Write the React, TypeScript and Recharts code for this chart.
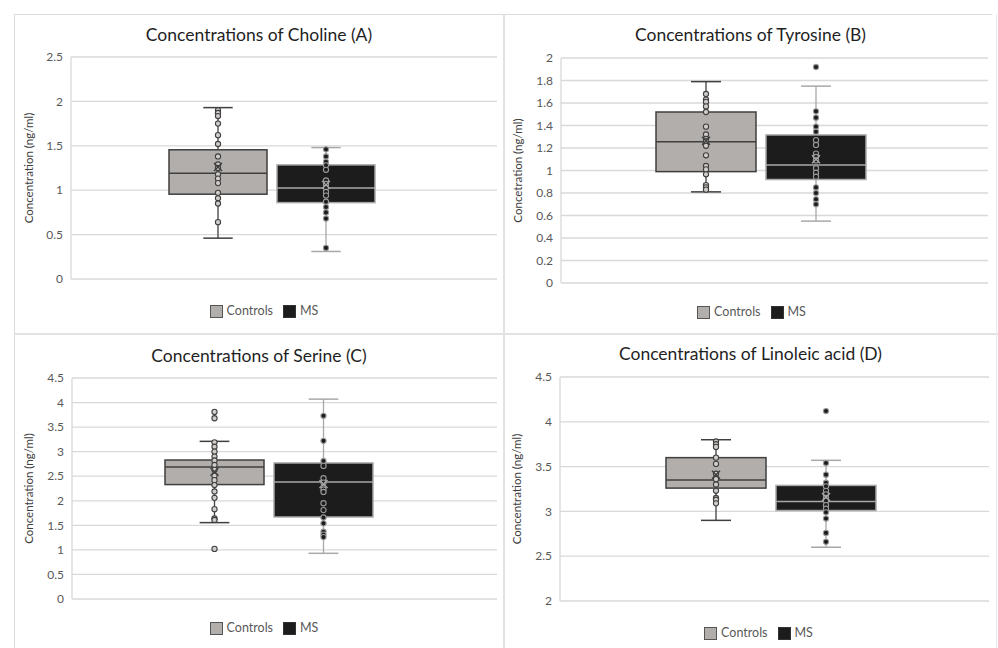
import React from 'react';
import { ComposedChart, Bar, XAxis, YAxis, CartesianGrid, Label } from 'recharts';

const groups = ['Controls', 'MS'];

// Panel A — Choline
const cholineMin = [0.46, 0.31];
const cholineQ1 = [0.955, 0.86];
const cholineMedian = [1.19, 1.025];
const cholineQ3 = [1.455, 1.285];
const cholineMax = [1.93, 1.48];
const cholineMean = [1.26, 1.06];
const cholineControlsPoints = [1.9, 1.87, 1.835, 1.75, 1.62, 1.52, 1.38, 1.29, 1.25, 1.18, 1.13, 1.08, 0.97, 0.91, 0.85, 0.64];
const cholineMsPoints = [1.46, 1.38, 1.32, 1.28, 1.23, 1.11, 1.07, 1.03, 0.98, 0.94, 0.87, 0.81, 0.75, 0.68, 0.35];
const cholineTicks = [0, 0.5, 1, 1.5, 2, 2.5];
const cholineTickLabels = ['0', '0.5', '1', '1.5', '2', '2.5'];

// Panel B — Tyrosine
const tyrosineMin = [0.81, 0.55];
const tyrosineQ1 = [0.99, 0.92];
const tyrosineMedian = [1.256, 1.05];
const tyrosineQ3 = [1.52, 1.316];
const tyrosineMax = [1.79, 1.75];
const tyrosineMean = [1.265, 1.1];
const tyrosineControlsPoints = [1.68, 1.63, 1.61, 1.57, 1.52, 1.39, 1.32, 1.28, 1.26, 1.22, 1.135, 1.04, 1.01, 0.966, 0.87, 0.85, 0.83];
const tyrosineMsPoints = [1.92, 1.526, 1.47, 1.39, 1.345, 1.27, 1.227, 1.15, 1.12, 1.09, 1.02, 0.98, 0.945, 0.85, 0.8, 0.744, 0.7];
const tyrosineTicks = [0, 0.2, 0.4, 0.6, 0.8, 1, 1.2, 1.4, 1.6, 1.8, 2];
const tyrosineTickLabels = ['0', '0.2', '0.4', '0.6', '0.8', '1', '1.2', '1.4', '1.6', '1.8', '2'];

// Panel C — Serine
const serineMin = [1.555, 0.93];
const serineQ1 = [2.33, 1.67];
const serineMedian = [2.69, 2.38];
const serineQ3 = [2.83, 2.77];
const serineMax = [3.21, 4.07];
const serineMean = [2.59, 2.34];
const serineControlsPoints = [3.81, 3.68, 3.19, 3.1, 3.0, 2.9, 2.82, 2.73, 2.63, 2.51, 2.42, 2.32, 2.19, 2.06, 1.83, 1.64, 1.61, 1.02];
const serineMsPoints = [3.73, 3.22, 2.81, 2.71, 2.46, 2.37, 2.23, 2.18, 1.95, 1.81, 1.66, 1.54, 1.37, 1.31, 1.26];
const serineTicks = [0, 0.5, 1, 1.5, 2, 2.5, 3, 3.5, 4, 4.5];
const serineTickLabels = ['0', '0.5', '1', '1.5', '2', '2.5', '3', '3.5', '4', '4.5'];

// Panel D — Linoleic acid
const linoleicMin = [2.9, 2.6];
const linoleicQ1 = [3.26, 3.01];
const linoleicMedian = [3.35, 3.11];
const linoleicQ3 = [3.6, 3.29];
const linoleicMax = [3.8, 3.57];
const linoleicMean = [3.41, 3.16];
const linoleicControlsPoints = [3.78, 3.75, 3.72, 3.6, 3.53, 3.42, 3.36, 3.3, 3.23, 3.15, 3.13, 3.09];
const linoleicMsPoints = [4.12, 3.54, 3.41, 3.32, 3.28, 3.23, 3.19, 3.15, 3.12, 3.07, 3.03, 2.99, 2.92, 2.76, 2.66];
const linoleicTicks = [2, 2.5, 3, 3.5, 4, 4.5];
const linoleicTickLabels = ['2', '2.5', '3', '3.5', '4', '4.5'];

const groupStyles: Record<string, any> = {
  Controls: { fill: '#b2aeab', stroke: '#3f3f3f', line: '#3f3f3f', ptFill: '#d0cdcb', ptStroke: '#404040', swatchStroke: '#555555' },
  MS: { fill: '#1c1c1c', stroke: '#a8a8a8', line: '#a8a8a8', ptFill: '#1c1c1c', ptStroke: '#9a9a9a', swatchStroke: '#333333' },
};

function buildRows(mins: number[], q1: number[], med: number[], q3: number[], maxs: number[], means: number[], pts: number[][]) {
  return groups.map((g, i) => ({
    name: g,
    box: [q1[i], q3[i]],
    min: mins[i],
    median: med[i],
    max: maxs[i],
    mean: means[i],
    points: pts[i],
  }));
}

const BoxShape = (props: any) => {
  const { x, y, width, height, payload } = props;
  if (!payload) return null;
  const st = groupStyles[payload.name];
  const [lo, hi] = payload.box;
  const top = Math.min(y, y + height);
  const h = Math.abs(height);
  const k = h / (hi - lo);
  const yv = (v: number) => top + (hi - v) * k;
  const cx = x + width / 2;
  const capHalf = width * 0.15;
  const ym = yv(payload.mean);
  const s = 4;
  return (
    <g>
      <line x1={cx} x2={cx} y1={yv(payload.max)} y2={yv(payload.min)} stroke={st.line} strokeWidth={1.3} />
      <line x1={cx - capHalf} x2={cx + capHalf} y1={yv(payload.max)} y2={yv(payload.max)} stroke={st.line} strokeWidth={1.5} />
      <line x1={cx - capHalf} x2={cx + capHalf} y1={yv(payload.min)} y2={yv(payload.min)} stroke={st.line} strokeWidth={1.5} />
      <rect x={x} y={top} width={width} height={h} fill={st.fill} stroke={st.stroke} strokeWidth={1.5} />
      <line x1={x} x2={x + width} y1={yv(payload.median)} y2={yv(payload.median)} stroke={st.line} strokeWidth={1.5} />
      {payload.points.map((p: number, i: number) => (
        <circle key={i} cx={cx} cy={yv(p)} r={2.6} fill={st.ptFill} stroke={st.ptStroke} strokeWidth={1.1} />
      ))}
      <line x1={cx - s} x2={cx + s} y1={ym - s} y2={ym + s} stroke={st.line} strokeWidth={1.4} />
      <line x1={cx - s} x2={cx + s} y1={ym + s} y2={ym - s} stroke={st.line} strokeWidth={1.4} />
    </g>
  );
};

const panels = [
  {
    key: 'A', title: 'Concentrations of Choline (A)', yLabel: 'Concentration (ng/ml)',
    rows: buildRows(cholineMin, cholineQ1, cholineMedian, cholineQ3, cholineMax, cholineMean, [cholineControlsPoints, cholineMsPoints]),
    ticks: cholineTicks, tickLabels: cholineTickLabels, domain: [0, 2.5],
    left: 14, top: 14, width: 490, height: 320,
    margin: { top: 43, right: 7, bottom: 55, left: 17 }, pad: { left: 93, right: 117 },
    titleTop: 10, legendTop: 289, legendShift: 5, labelDx: -22,
  },
  {
    key: 'B', title: 'Concentrations of Tyrosine (B)', yLabel: 'Concetration (ng/ml)',
    rows: buildRows(tyrosineMin, tyrosineQ1, tyrosineMedian, tyrosineQ3, tyrosineMax, tyrosineMean, [tyrosineControlsPoints, tyrosineMsPoints]),
    ticks: tyrosineTicks, tickLabels: tyrosineTickLabels, domain: [0, 2],
    left: 504, top: 14, width: 493, height: 320,
    margin: { top: 44, right: 9, bottom: 51, left: 17 }, pad: { left: 90, right: 117 },
    titleTop: 10, legendTop: 290, legendShift: 1, labelDx: -23,
  },
  {
    key: 'C', title: 'Concentrations of Serine (C)', yLabel: 'Concentration  (ng/ml)',
    rows: buildRows(serineMin, serineQ1, serineMedian, serineQ3, serineMax, serineMean, [serineControlsPoints, serineMsPoints]),
    ticks: serineTicks, tickLabels: serineTickLabels, domain: [0, 4.5],
    left: 14, top: 334, width: 490, height: 314,
    margin: { top: 44, right: 7, bottom: 49, left: 18 }, pad: { left: 88, right: 119 },
    titleTop: 11, legendTop: 286, legendShift: 5, labelDx: -23,
  },
  {
    key: 'D', title: 'Concentrations of Linoleic acid (D)', yLabel: 'Concentration (ng/ml)',
    rows: buildRows(linoleicMin, linoleicQ1, linoleicMedian, linoleicQ3, linoleicMax, linoleicMean, [linoleicControlsPoints, linoleicMsPoints]),
    ticks: linoleicTicks, tickLabels: linoleicTickLabels, domain: [2, 4.5],
    left: 504, top: 334, width: 493, height: 314,
    margin: { top: 43, right: 8, bottom: 47, left: 16 }, pad: { left: 101, right: 108 },
    titleTop: 9, legendTop: 291, legendShift: 8, labelDx: -23,
  },
];

const FONT = 'Lato, "Open Sans", sans-serif';

function Panel({ p }: { p: any }) {
  return (
    <div style={{ position: 'absolute', left: p.left, top: p.top, width: p.width, height: p.height, fontFamily: FONT }}>
      <ComposedChart width={p.width} height={p.height} data={p.rows} margin={p.margin} barCategoryGap={5}>
        <CartesianGrid vertical={false} stroke="#d9d9d9" strokeWidth={1.3} />
        <XAxis dataKey="name" hide padding={p.pad} />
        <YAxis
          width={40}
          domain={p.domain}
          ticks={p.ticks}
          interval={0}
          tickLine={false}
          axisLine={{ stroke: '#d9d9d9', strokeWidth: 1.3 }}
          tick={{ fill: '#595959', fontSize: 12, fontFamily: FONT }}
          tickFormatter={(v: number) => p.tickLabels[p.ticks.indexOf(v)] ?? String(v)}
        >
          <Label value={p.yLabel} angle={-90} position="center" dx={p.labelDx}
            style={{ fill: '#404040', fontSize: 11.5, fontFamily: FONT, textAnchor: 'middle' }} />
        </YAxis>
        <Bar dataKey="box" shape={<BoxShape />} isAnimationActive={false} />
      </ComposedChart>
      <div style={{ position: 'absolute', left: 0, width: p.width, top: p.titleTop, textAlign: 'center', fontSize: 17.5, lineHeight: '22px', color: '#1f1f1f' }}>
        {p.title}
      </div>
      <div style={{ position: 'absolute', left: p.legendShift, width: p.width, top: p.legendTop, display: 'flex', justifyContent: 'center', alignItems: 'center', fontSize: 12.5, color: '#595959', lineHeight: '16px' }}>
        {groups.map((g, i) => (
          <div key={g} style={{ display: 'flex', alignItems: 'center', marginLeft: i ? 10 : 0 }}>
            <span style={{ display: 'inline-block', width: 11, height: 11, background: groupStyles[g].fill, border: `1px solid ${groupStyles[g].swatchStroke}`, marginRight: 4 }} />
            <span>{g}</span>
          </div>
        ))}
      </div>
    </div>
  );
}

export default function App() {
  return (
    <div style={{ position: 'absolute', left: 0, top: 0, width: 998, height: 648, background: '#ffffff', overflow: 'hidden' }}>
      <div style={{ position: 'absolute', left: 14, top: 14, width: 978, height: 1, background: '#dcdcdc' }} />
      <div style={{ position: 'absolute', left: 14, top: 14, width: 1, height: 634, background: '#dcdcdc' }} />
      <div style={{ position: 'absolute', left: 503, top: 14, width: 2, height: 634, background: '#e2e2e2' }} />
      <div style={{ position: 'absolute', left: 14, top: 333, width: 984, height: 2, background: '#e2e2e2' }} />
      <div style={{ position: 'absolute', left: 996, top: 14, width: 1, height: 634, background: '#ebebeb' }} />
      {panels.map((p) => (
        <Panel key={p.key} p={p} />
      ))}
    </div>
  );
}
